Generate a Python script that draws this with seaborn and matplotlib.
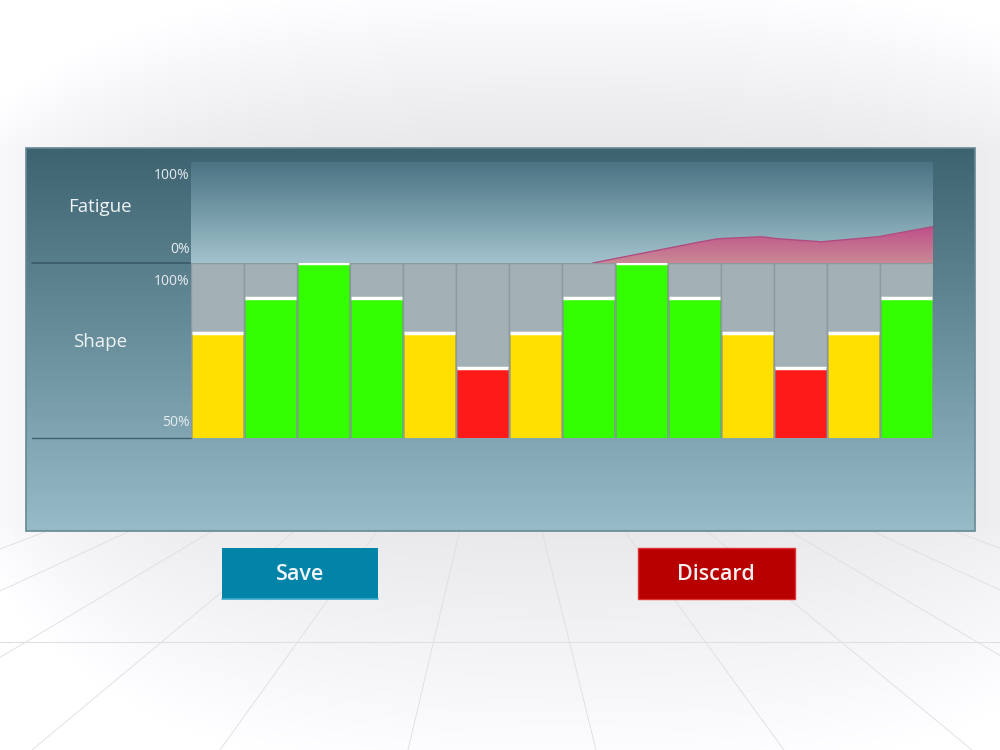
import numpy as np
import matplotlib
matplotlib.use("Agg")
import matplotlib.pyplot as plt
import matplotlib.colors as mcolors
from matplotlib.patches import Rectangle
import seaborn as sns

# -----------------------------
# Data
# -----------------------------

sessions = [str(i) for i in range(1, 15)]
shape_values = [80, 90, 100, 90, 80, 70, 80, 90, 100, 90, 80, 70, 80, 90]

# fatigue curve, x in bar-slot units
fatigue_pos = [7.08, 9.12, 9.44, 10.26, 10.58, 11.39, 12.47, 13.5]
fatigue_values = [0, 21, 24, 26, 24, 21, 26, 36]

fatigue_ticks = {100: "100%", 0: "0%"}
shape_ticks = {100: "100%", 50: "50%"}
row_labels = ["Fatigue", "Shape"]
button_labels = ["Save", "Discard"]


def shape_colour(v):
    if v >= 90:
        return "#33ff00"
    if v >= 80:
        return "#ffe000"
    return "#ff1a1a"


def vgrad(top, bottom, n=256):
    t = np.linspace(0, 1, n)[:, None]
    a = np.array(mcolors.to_rgb(top))
    b = np.array(mcolors.to_rgb(bottom))
    return (a * (1 - t) + b * t)[:, None, :]


# -----------------------------
# Setup
# -----------------------------

sns.set_theme(style="white")
plt.rcParams["font.family"] = ["Open Sans", "DejaVu Sans"]

fig = plt.figure(figsize=(10, 7.5), dpi=100)

# background canvas in pixel coords
bg = fig.add_axes([0, 0, 1, 1])
bg.set_axis_off()

yy, xx = np.mgrid[0:750:376j, 0:1000:501j]
top_part = 0.985 - 0.08 * np.clip(yy / 150, 0, 1)
floor = 0.91 + 0.075 * np.clip((yy - 530) / 220, 0, 1)
g = np.where(yy < 530, top_part, floor)
g = g + 0.07 * np.exp(-xx / 160) + 0.03 * np.exp(-(1000 - xx) / 160)
g = np.clip(g, 0, 1)
img = np.dstack([g, g, np.clip(g + 0.008, 0, 1)])
bg.imshow(img, extent=(0, 1000, 750, 0), aspect="auto", zorder=0)

# floor tiles
vx, vy = 500, 360
for k in range(-8, 10):
    xb = 32 + 188 * k
    xt = vx + (xb - vx) * (532 - vy) / (750 - vy)
    bg.plot([xt, xb], [532, 750], color="#dedee1", lw=0.6, zorder=1)
bg.plot([0, 1000], [642, 642], color="#e0e0e3", lw=0.8, zorder=1)

# panel
bg.imshow(vgrad("#3d6371", "#97bbc7"), extent=(26, 975, 531, 148),
          aspect="auto", zorder=2)
bg.add_patch(Rectangle((26, 148), 949, 383, fill=False,
                       edgecolor="#668894", lw=1.2, zorder=3))
bg.plot([32, 191], [263, 263], color="#395966", lw=1.2, zorder=3)
bg.plot([32, 191], [438, 438], color="#3f606c", lw=1.0, zorder=3)

bg.text(100, 207, row_labels[0], ha="center", va="center",
        color="#eef3f5", fontsize=13.5, zorder=4)
bg.text(100, 342, row_labels[1], ha="center", va="center",
        color="#eef3f5", fontsize=13.5, zorder=4)

# buttons
bg.add_patch(Rectangle((222, 548), 156, 51, facecolor="#0284a8",
                       edgecolor="none", zorder=3))
bg.plot([222, 378], [598.5, 598.5], color="#3aa9c9", lw=1.2, zorder=4)
bg.text(300, 574, button_labels[0], ha="center", va="center",
        color="#f2f6f8", fontsize=15.5, fontweight="semibold", zorder=5)

bg.add_patch(Rectangle((638, 548), 157, 51, facecolor="#b90000",
                       edgecolor="#de3434", lw=1, zorder=3))
bg.text(716, 574, button_labels[1], ha="center", va="center",
        color="#f6f0f0", fontsize=15.5, fontweight="semibold", zorder=5)

bg.set_xlim(0, 1000)
bg.set_ylim(750, 0)

# -----------------------------
# Fatigue area
# -----------------------------

ax_f = fig.add_axes([0.191, 1 - 263 / 750, 0.742, 101 / 750])
ax_f.imshow(vgrad("#4a7383", "#a2c3cd"), extent=(-0.5, 13.5, 0, 100),
            aspect="auto", zorder=0)
poly = ax_f.fill_between(fatigue_pos, fatigue_values, color="none")
grad = ax_f.imshow(vgrad("#bf4f8a", "#c98894"),
                   extent=(-0.5, 13.5, 0, max(fatigue_values)),
                   aspect="auto", zorder=1)
grad.set_clip_path(poly.get_paths()[0], transform=ax_f.transData)
sns.lineplot(x=fatigue_pos, y=fatigue_values, ax=ax_f,
             color="#b04d80", lw=1, zorder=2)
ax_f.set_xlim(-0.5, 13.5)
ax_f.set_ylim(0, 100)
ax_f.set_axis_off()

offsets = {100: -10, 0: 9.5}
for val, lab in fatigue_ticks.items():
    ax_f.annotate(lab, xy=(0, val), xycoords=ax_f.get_yaxis_transform(),
                  xytext=(-1, offsets[val]), textcoords="offset points",
                  ha="right", va="center", color="#e6edf0", fontsize=10,
                  annotation_clip=False)

# -----------------------------
# Shape bars
# -----------------------------

ax_s = fig.add_axes([0.191, 1 - 438 / 750, 0.742, 175 / 750])
sns.barplot(x=sessions, y=[100] * len(sessions), color="#a3b0b6",
            width=1.0, saturation=1, edgecolor="#8c9aa0", linewidth=1,
            ax=ax_s)
sns.barplot(x=sessions, y=shape_values, hue=sessions,
            palette=[shape_colour(v) for v in shape_values], legend=False,
            width=0.95, saturation=1, edgecolor=(0, 0, 0, 0.12),
            linewidth=0.6, ax=ax_s)
idx = np.arange(len(sessions))
ax_s.hlines(shape_values, idx - 0.475, idx + 0.475, color="white", lw=2.5)
ax_s.set_xlim(-0.5, 13.5)
ax_s.set_ylim(50, 100)
ax_s.set_axis_off()

offsets = {100: -13, 50: 10.8}
for val, lab in shape_ticks.items():
    ax_s.annotate(lab, xy=(0, val), xycoords=ax_s.get_yaxis_transform(),
                  xytext=(-1, offsets[val]), textcoords="offset points",
                  ha="right", va="center", color="#e6edf0", fontsize=10,
                  annotation_clip=False)

fig.savefig("out.png", dpi=100)
plt.close(fig)
